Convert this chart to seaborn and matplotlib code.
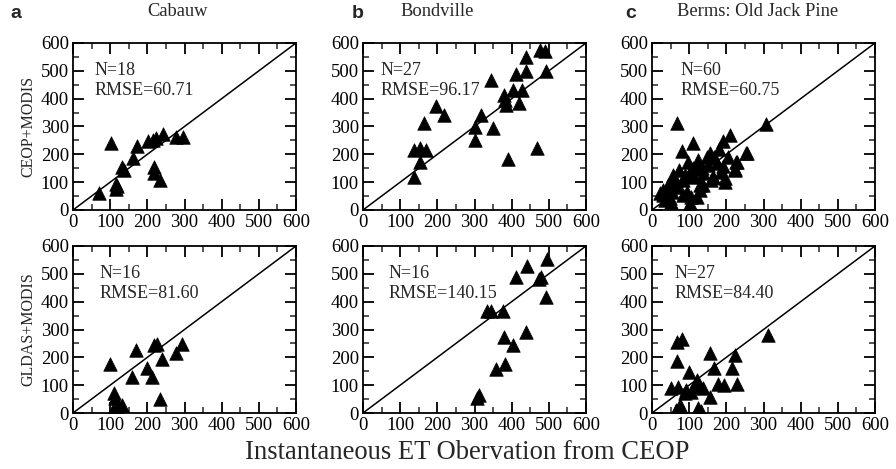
import numpy as np
import pandas as pd
import matplotlib
matplotlib.use("Agg")
import matplotlib.pyplot as plt
import seaborn as sns
from matplotlib.ticker import MultipleLocator

sns.set_theme(style="white")
plt.rcParams['font.family'] = ['Liberation Serif', 'DejaVu Serif']

sites = ["Cabauw", "Bondville", "Berms: Old Jack Pine"]
letters = ["a", "b", "c"]
rows = ["CEOP+MODIS", "GLDAS+MODIS"]

# ---- CEOP+MODIS (top row)
a_top_x = [70, 103, 116, 116, 118, 132, 136, 161, 172, 201, 215, 224, 242, 219, 218, 235, 278, 296]
a_top_y = [62, 242, 94, 75, 85, 156, 144, 186, 230, 248, 250, 258, 274, 154, 132, 106, 264, 264]

b_top_x = [137, 137, 153, 170, 153, 164, 196, 217, 302, 302, 318, 345, 350, 379, 381, 384, 390,
           404, 411, 420, 429, 438, 438, 469, 476, 489, 492]
b_top_y = [119, 217, 224, 217, 173, 313, 372, 340, 298, 253, 340, 468, 296, 412, 394, 379, 185,
           432, 489, 384, 430, 499, 549, 224, 575, 573, 499]

c_top_x = [66, 308, 210, 190, 109, 82, 255, 179, 156, 168, 205, 229, 223, 192, 120, 98, 134, 73,
           57, 102, 138, 165, 196, 160, 62, 84, 138, 129, 30, 21, 53, 84, 120, 48, 35, 102, 100,
           93, 71, 44, 112, 125, 147, 128, 106, 102, 30, 52, 222, 196, 164, 254, 225, 150, 185,
           110, 90, 40, 175, 60]
c_top_y = [314, 309, 270, 249, 240, 213, 206, 218, 206, 192, 192, 174, 147, 158, 162, 174, 150, 144,
           126, 138, 132, 120, 114, 108, 102, 108, 90, 72, 72, 60, 66, 54, 48, 42, 36, 24, 10,
           66, 84, 90, 120, 180, 192, 90, 48, 12, 54, 30, 144, 102, 120, 204, 174, 160, 135,
           150, 125, 50, 170, 110]

# ---- GLDAS+MODIS (bottom row)
a_bot_x = [100, 169, 160, 199, 213, 217, 226, 240, 276, 294, 233, 111, 113, 118, 131, 108]
a_bot_y = [175, 226, 131, 160, 128, 246, 249, 194, 217, 249, 51, 71, 53, 18, 30, 12]

b_bot_x = [311, 307, 334, 345, 377, 379, 404, 359, 381, 438, 413, 440, 474, 478, 494, 492]
b_bot_y = [65, 53, 368, 365, 365, 273, 246, 158, 175, 291, 490, 528, 481, 487, 552, 416]

c_bot_x = [67, 81, 67, 157, 223, 167, 214, 313, 100, 120, 137, 52, 70, 178, 193, 229, 156, 74,
           79, 65, 124, 133, 106, 92, 88, 115, 128]
c_bot_y = [255, 267, 186, 217, 210, 163, 160, 279, 146, 119, 89, 89, 95, 103, 99, 103, 56, 30,
           18, 12, 18, 6, 77, 83, 71, 101, 95]

n_labels = [["N=18", "N=27", "N=60"], ["N=16", "N=16", "N=27"]]
rmse_labels = [["RMSE=60.71", "RMSE=96.17", "RMSE=60.75"],
               ["RMSE=81.60", "RMSE=140.15", "RMSE=84.40"]]

data = [[(a_top_x, a_top_y), (b_top_x, b_top_y), (c_top_x, c_top_y)],
        [(a_bot_x, a_bot_y), (b_bot_x, b_bot_y), (c_bot_x, c_bot_y)]]

ticks = [0, 100, 200, 300, 400, 500, 600]

fig = plt.figure(figsize=(8.96, 4.69), dpi=100)
lefts = [73 / 896, 363 / 896, 652 / 896]
width = 223 / 896
bottoms = [1 - 210 / 469, 1 - 413 / 469]
height = 167 / 469
text_x = [[58, 48, 78], [70, 68, 60]]

for r in range(2):
    for c in range(3):
        ax = fig.add_axes([lefts[c], bottoms[r], width, height])
        xs, ys = data[r][c]
        df = pd.DataFrame({"obs": xs, "est": ys})
        sns.scatterplot(data=df, x="obs", y="est", marker="^", s=95, color="black",
                        edgecolor="black", linewidth=0.5, ax=ax, zorder=3, clip_on=True)
        ax.plot([0, 600], [0, 600], color="black", lw=1.1, zorder=2)
        ax.set_xlim(0, 600)
        ax.set_ylim(0, 600)
        ax.set_xticks(ticks)
        ax.set_yticks(ticks)
        ax.set_xticklabels([str(t) for t in ticks], fontsize=13.5)
        ax.set_yticklabels([str(t) for t in ticks], fontsize=13.5)
        ax.xaxis.set_minor_locator(MultipleLocator(50))
        ax.yaxis.set_minor_locator(MultipleLocator(50))
        ax.tick_params(which="major", direction="in", length=8, width=1.3,
                       bottom=True, left=True, top=True, right=True, pad=3, colors="black")
        ax.tick_params(which="minor", direction="in", length=4.5, width=1.1,
                       bottom=True, left=True, top=True, right=True)
        for sp in ax.spines.values():
            sp.set_linewidth(1.3)
            sp.set_color("black")
        ax.set_xlabel("")
        ax.set_ylabel(rows[r] if c == 0 else "", fontsize=11.5, labelpad=3)
        ax.text(text_x[r][c], 500, n_labels[r][c], fontsize=13, va="center", ha="left")
        ax.text(text_x[r][c], 430, rmse_labels[r][c], fontsize=13, va="center", ha="left")

title_x = [177, 437, 758]
letter_x = [10, 352, 625]
for c in range(3):
    fig.text(letter_x[c] / 896, 1 - 13 / 469, letters[c], fontsize=14, fontweight="bold",
             family=["Liberation Sans", "DejaVu Sans"], ha="left", va="center")
    fig.text(title_x[c] / 896, 1 - 12 / 469, sites[c], fontsize=13.3, ha="center", va="center")

fig.text(467 / 896, 1 - 452 / 469, "Instantaneous ET Obervation from CEOP", fontsize=19.2,
         ha="center", va="center")

fig.savefig("out.png", dpi=100)
